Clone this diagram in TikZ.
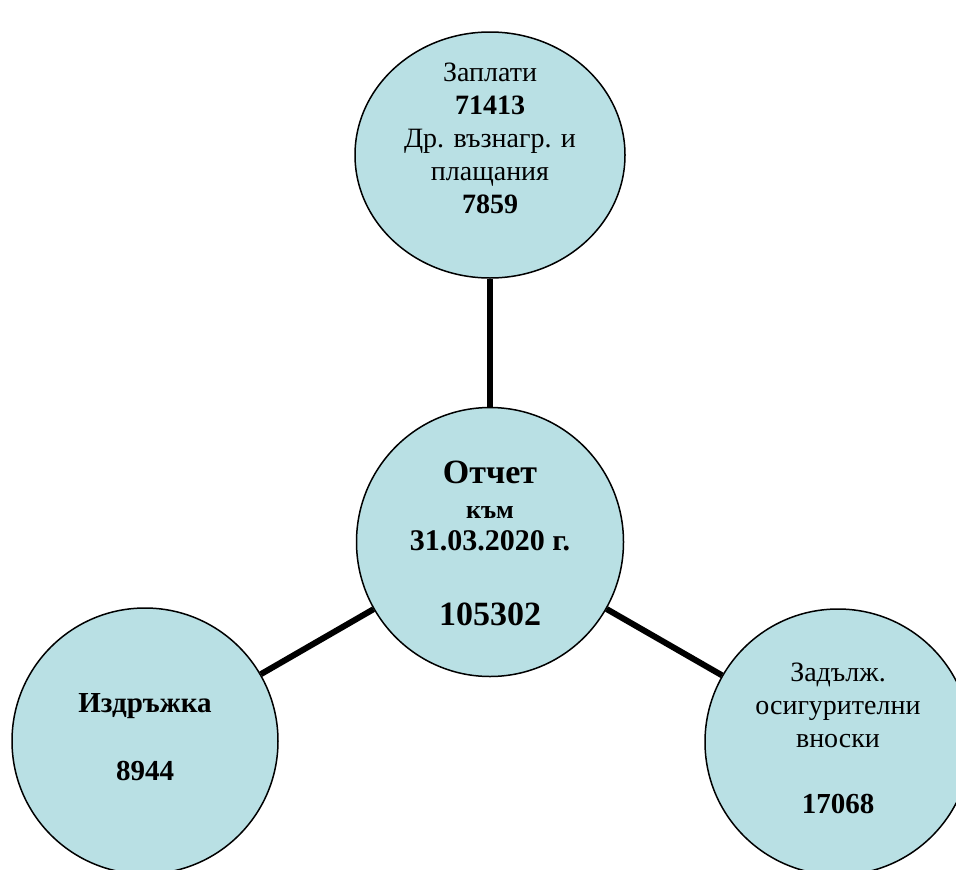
\documentclass[tikz,border=0pt]{standalone}
\usepackage{fontspec}
\setmainfont{Liberation Serif}
\usetikzlibrary{shapes.geometric}
\definecolor{bubblefill}{RGB}{185,224,228}
\begin{document}
\begin{tikzpicture}[x=1pt,y=-1pt,
  bubble/.style={ellipse, draw=black, line width=1.5pt, fill=bubblefill, inner sep=0pt},
  link/.style={line width=6pt, black},
  lbl/.style={align=center, inner sep=0pt, anchor=base, font=\fontsize{28}{33}\selectfont}]
\useasboundingbox (0,0) rectangle (956,870);
% circles
\node[bubble, minimum width=270pt, minimum height=246pt] (top) at (490,155) {};
\node[bubble, minimum width=267pt, minimum height=269pt] (mid) at (490,542) {};
\node[bubble, minimum width=266pt, minimum height=266pt] (bl) at (145,741) {};
\node[bubble, minimum width=266pt, minimum height=266pt] (br) at (838,742) {};
% connectors
\draw[link] (top) -- (mid);
\draw[link] (mid) -- (bl);
\draw[link] (mid) -- (br);
% labels (anchored at the baseline of the last line)
\node[lbl] (toptxt) at (490,213) {Заплати\\\textbf{71413}\\Др. възнагр. и\\плащания\\\textbf{7859}};
\node[lbl] (midtxt) at (490,625) {{\fontsize{34}{35}\selectfont\textbf{Отчет}}\\[2pt]
  {\fontsize{26}{35}\selectfont\textbf{към}}\\[-1pt]
  {\fontsize{30}{35}\selectfont\textbf{31.03.2020 г.}}\\[42pt]
  {\fontsize{34}{35}\selectfont\textbf{105302}}};
\node[lbl] (bltxt) at (145,780) {{\fontsize{29}{33}\selectfont\textbf{Издръжка}}\\[35pt]{\fontsize{29}{33}\selectfont\textbf{8944}}};
\node[lbl] (brtxt) at (838,813) {Задълж.\\осигурителни\\вноски\\[33pt]{\fontsize{29}{33}\selectfont\textbf{17068}}};
\end{tikzpicture}
\end{document}
